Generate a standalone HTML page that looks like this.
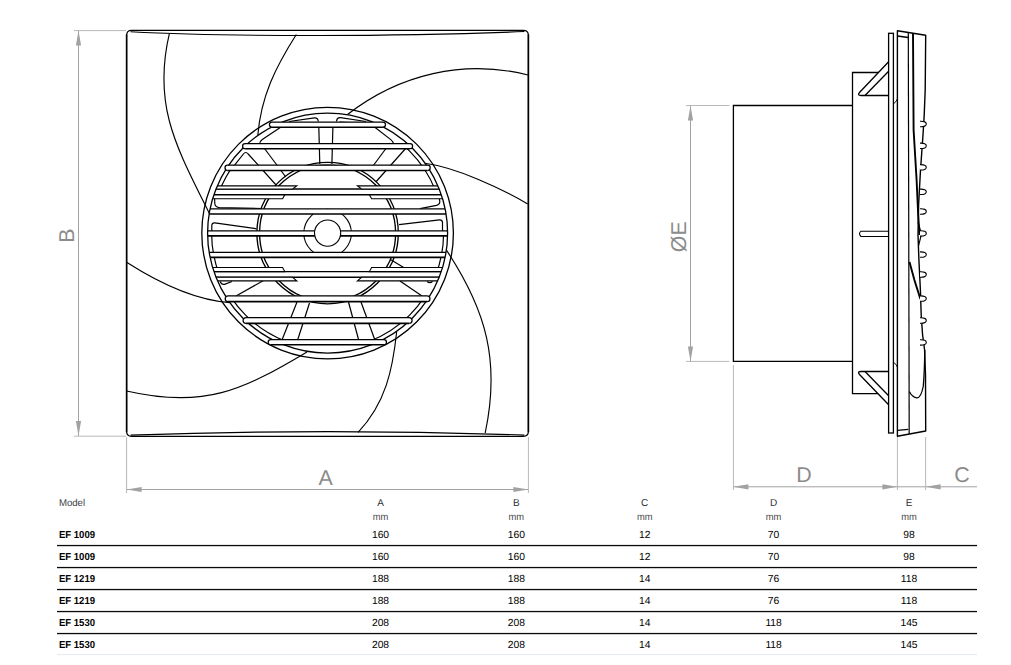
<!DOCTYPE html>
<html><head><meta charset="utf-8"><style>
html,body{margin:0;padding:0;background:#fff;width:1011px;height:665px;overflow:hidden;}
svg{display:block;}
</style></head><body>
<svg width="1011" height="665" viewBox="0 0 1011 665" style="text-rendering:geometricPrecision">
<defs><clipPath id="ring"><circle cx="327.6" cy="233.1" r="120.0"/></clipPath><clipPath id="band"><rect x="150" y="165" width="360" height="33.7"/><rect x="327" y="143.6" width="183" height="22"/><rect x="150" y="230.8" width="360" height="50.2"/><rect x="150" y="295.8" width="360" height="47.7"/></clipPath></defs>
<rect width="1011" height="665" fill="#fff"/>
<path d="M131.6,30.45 H523.4 Q528.4,30.45 528.4,35.45 V431.3 Q528.4,436.3 523.4,436.3 H131.6 Q126.6,436.3 126.6,431.3 V35.45 Q126.6,30.45 131.6,30.45 Z" fill="none" stroke="#000" stroke-width="1.2"/>
<path d="M126.6,34.45 V432.3 M528.4,34.45 V432.3" fill="none" stroke="#000" stroke-width="1.6"/>
<path d="M130.6,31.75 C230,37.0 400,36.6 524.4,31.55" fill="none" stroke="#000" stroke-width="1.15"/>
<path d="M130.6,435.1 Q330,428.1 524.4,435.1" fill="none" stroke="#000" stroke-width="1.15"/>
<circle cx="327.6" cy="233.1" r="125.8" fill="#fff" stroke="#000" stroke-width="1.3"/>
<path d="M169.4,33.3 C152.2,106.2 177.0,148.2 209.5,213.7" fill="none" stroke="#000" stroke-width="1.15"/>
<path d="M296.3,34.5 C275.6,67.2 261.0,96.2 257.8,135.5" fill="none" stroke="#000" stroke-width="1.15"/>
<path d="M528.0,75.0 C463.9,58.8 399.2,74.3 347.5,114.5" fill="none" stroke="#000" stroke-width="1.15"/>
<path d="M425.0,163.3 C456.3,167.5 500.3,188.0 527.7,203.9" fill="none" stroke="#000" stroke-width="1.15"/>
<path d="M446.6,250.4 C486.5,310.7 500.3,361.6 485.2,433.0" fill="none" stroke="#000" stroke-width="1.15"/>
<path d="M396.7,331.5 C392.7,369.7 385.6,403.5 358.1,432.3" fill="none" stroke="#000" stroke-width="1.15"/>
<path d="M126.6,262.2 C156.3,281.2 194.3,300.1 230.0,302.6" fill="none" stroke="#000" stroke-width="1.15"/>
<path d="M126.6,391.0 C204.0,408.9 242.1,390.6 307.0,351.9" fill="none" stroke="#000" stroke-width="1.15"/>
<circle cx="327.6" cy="233.1" r="120.0" fill="#fff" stroke="none"/>
<g clip-path="url(#ring)">
<circle cx="327.6" cy="233.1" r="116.0" clip-path="url(#band)" fill="none" stroke="#000" stroke-width="1.2"/>
<circle cx="327.6" cy="233.1" r="68.0" fill="none" stroke="#000" stroke-width="1.35"/>
<circle cx="327.6" cy="233.1" r="70.7" fill="none" stroke="#000" stroke-width="1.35"/>
<path d="M318.8,127 L319.8,164" fill="none" stroke="#000" stroke-width="1.2"/>
<path d="M332.9,127 L331.9,164" fill="none" stroke="#000" stroke-width="1.2"/>
<path d="M297,302 L280,345" fill="none" stroke="#000" stroke-width="1.2"/>
<path d="M309.5,303 L296,345" fill="none" stroke="#000" stroke-width="1.2"/>
<path d="M348.5,302 L360,345" fill="none" stroke="#000" stroke-width="1.2"/>
<path d="M361,302 L376,343" fill="none" stroke="#000" stroke-width="1.2"/>
<path d="M410.5,143 L375.8,182" fill="none" stroke="#000" stroke-width="1.2"/>
<path d="M390,143 L371.5,168" fill="none" stroke="#000" stroke-width="1.2"/>
<path d="M264.5,148.5 L285.8,177" fill="none" stroke="#000" stroke-width="1.2"/>
<path d="M236,296 L268,278" fill="none" stroke="#000" stroke-width="1.2"/>
<path d="M390.5,259.5 L404.5,268" fill="none" stroke="#000" stroke-width="1.2"/>
<path d="M400,281 L422,296" fill="none" stroke="#000" stroke-width="1.2"/>
<path d="M234.6,165.2 L243.4,154 Q245.8,151 248.2,154 L276.5,185.5" fill="none" stroke="#000" stroke-width="1.2"/>
<path d="M281,127 L262.3,139.6 Q259.3,141.8 259.6,144" fill="none" stroke="#000" stroke-width="1.2"/>
<path d="M374.5,127 L390.8,139.6 Q393.6,141.8 393.3,144" fill="none" stroke="#000" stroke-width="1.2"/>
<path d="M211.8,232 L211.8,225.2 Q212,222.6 214.8,222.8 L256.5,228.8" fill="none" stroke="#000" stroke-width="1.2"/>
<path d="M214.6,198 L214.8,203.8 Q215.2,207.3 219.5,207.6 L262,208.6" fill="none" stroke="#000" stroke-width="1.2"/>
<path d="M442.5,232 L442.5,222.6 Q442.3,219.8 439.5,219.9 L399,224.6" fill="none" stroke="#000" stroke-width="1.2"/>
<path d="M439.3,198 L439.8,201.5 Q440,204.4 436.5,205.3 L420,208.6" fill="none" stroke="#000" stroke-width="1.2"/>
<path d="M383,127 Q372,124 340,122" fill="none" stroke="#000" stroke-width="1.2"/>
<path d="M232,281.5 L224.5,284.3 Q221.5,285 220.2,281.5" fill="none" stroke="#000" stroke-width="1.2"/>
<path d="M427,281.5 Q430,283.6 432.5,281.5" fill="none" stroke="#000" stroke-width="1.2"/>
<path d="M289,121.5 L314.5,117.8 Q318,117.6 318.3,121.5" fill="none" stroke="#000" stroke-width="1.2"/>
<path d="M366,121.5 L340.5,117.6 Q336.8,117.4 336.5,121.5" fill="none" stroke="#000" stroke-width="1.2"/>
</g>
<circle cx="327.6" cy="233.1" r="23.8" fill="#fff" stroke="#000" stroke-width="1.1"/>
<g clip-path="url(#ring)">
<rect x="190" y="189.00" width="280" height="5.70" fill="#fff"/>
<line x1="190" y1="189.00" x2="470" y2="189.00" stroke="#000" stroke-width="1.3"/>
<line x1="190" y1="194.70" x2="470" y2="194.70" stroke="#000" stroke-width="1.6"/>
<rect x="190" y="208.80" width="280" height="5.20" fill="#fff"/>
<line x1="190" y1="208.80" x2="470" y2="208.80" stroke="#000" stroke-width="1.3"/>
<line x1="190" y1="214.00" x2="470" y2="214.00" stroke="#000" stroke-width="1.6"/>
<rect x="190" y="230.80" width="280" height="5.10" fill="#fff"/>
<line x1="190" y1="230.80" x2="470" y2="230.80" stroke="#000" stroke-width="1.3"/>
<line x1="190" y1="235.90" x2="470" y2="235.90" stroke="#000" stroke-width="1.6"/>
<rect x="190" y="252.30" width="280" height="5.10" fill="#fff"/>
<line x1="190" y1="252.30" x2="470" y2="252.30" stroke="#000" stroke-width="1.3"/>
<line x1="190" y1="257.40" x2="470" y2="257.40" stroke="#000" stroke-width="1.6"/>
<rect x="190" y="271.60" width="280" height="5.70" fill="#fff"/>
<line x1="190" y1="271.60" x2="470" y2="271.60" stroke="#000" stroke-width="1.3"/>
<line x1="190" y1="277.30" x2="470" y2="277.30" stroke="#000" stroke-width="1.6"/>
<path d="M150,185.9 H296.8 L292.6,189.0 H150 Z" fill="#fff" stroke="#000" stroke-width="1.1"/>
<path d="M505,185.9 H357.40000000000003 L361.6,189.0 H505 Z" fill="#fff" stroke="#000" stroke-width="1.1"/>
<path d="M150,194.9 H284.8 L282.6,198.7 H150 Z" fill="#fff" stroke="#000" stroke-width="1.1"/>
<path d="M505,194.9 H369.40000000000003 L371.6,198.7 H505 Z" fill="#fff" stroke="#000" stroke-width="1.1"/>
<path d="M150,267.5 H282.6 L284.8,271.6 H150 Z" fill="#fff" stroke="#000" stroke-width="1.1"/>
<path d="M505,267.5 H371.6 L369.40000000000003,271.6 H505 Z" fill="#fff" stroke="#000" stroke-width="1.1"/>
<path d="M150,277.3 H292.6 L296.8,280.9 H150 Z" fill="#fff" stroke="#000" stroke-width="1.1"/>
<path d="M505,277.3 H361.6 L357.40000000000003,280.9 H505 Z" fill="#fff" stroke="#000" stroke-width="1.1"/>
</g>
<circle cx="327.6" cy="233.1" r="120.0" fill="none" stroke="#000" stroke-width="1.3"/>
<path d="M272.00,122.0 H382.90 A2.6000000000000014,2.6000000000000014 0 0 1 382.90,127.2 H272.00 A2.6000000000000014,2.6000000000000014 0 0 1 272.00,122.0 Z" fill="#fff" stroke="none"/>
<path d="M272.00,127.2 A2.6000000000000014,2.6000000000000014 0 0 1 272.00,122.0 H382.90 A2.6000000000000014,2.6000000000000014 0 0 1 382.90,127.2" fill="none" stroke="#000" stroke-width="1.25"/>
<line x1="272.00" y1="127.2" x2="382.90" y2="127.2" stroke="#000" stroke-width="1.6"/>
<path d="M270.80,339.6 H383.90 A2.5999999999999943,2.5999999999999943 0 0 1 383.90,344.8 H270.80 A2.5999999999999943,2.5999999999999943 0 0 1 270.80,339.6 Z" fill="#fff" stroke="none"/>
<path d="M270.80,344.8 A2.5999999999999943,2.5999999999999943 0 0 1 270.80,339.6 H383.90 A2.5999999999999943,2.5999999999999943 0 0 1 383.90,344.8" fill="none" stroke="#000" stroke-width="1.25"/>
<line x1="270.80" y1="344.8" x2="383.90" y2="344.8" stroke="#000" stroke-width="1.6"/>
<path d="M245.14,143.6 H410.06 A2.549999999999997,2.549999999999997 0 0 1 410.06,148.7 H245.14 A2.549999999999997,2.549999999999997 0 0 1 245.14,143.6 Z" fill="#fff" stroke="none"/>
<path d="M245.14,148.7 A2.549999999999997,2.549999999999997 0 0 1 245.14,143.6 H410.06 A2.549999999999997,2.549999999999997 0 0 1 410.06,148.7" fill="none" stroke="#000" stroke-width="1.25"/>
<line x1="245.14" y1="148.7" x2="410.06" y2="148.7" stroke="#000" stroke-width="1.6"/>
<path d="M227.64,165.2 H427.56 A2.6500000000000057,2.6500000000000057 0 0 1 427.56,170.5 H227.64 A2.6500000000000057,2.6500000000000057 0 0 1 227.64,165.2 Z" fill="#fff" stroke="none"/>
<path d="M227.64,170.5 A2.6500000000000057,2.6500000000000057 0 0 1 227.64,165.2 H427.56 A2.6500000000000057,2.6500000000000057 0 0 1 427.56,170.5" fill="none" stroke="#000" stroke-width="1.25"/>
<line x1="227.64" y1="170.5" x2="427.56" y2="170.5" stroke="#000" stroke-width="1.6"/>
<path d="M228.11,295.8 H427.09 A2.9000000000000057,2.9000000000000057 0 0 1 427.09,301.6 H228.11 A2.9000000000000057,2.9000000000000057 0 0 1 228.11,295.8 Z" fill="#fff" stroke="none"/>
<path d="M228.11,301.6 A2.9000000000000057,2.9000000000000057 0 0 1 228.11,295.8 H427.09 A2.9000000000000057,2.9000000000000057 0 0 1 427.09,301.6" fill="none" stroke="#000" stroke-width="1.25"/>
<line x1="228.11" y1="301.6" x2="427.09" y2="301.6" stroke="#000" stroke-width="1.6"/>
<path d="M245.96,317.7 H409.24 A2.8499999999999943,2.8499999999999943 0 0 1 409.24,323.4 H245.96 A2.8499999999999943,2.8499999999999943 0 0 1 245.96,317.7 Z" fill="#fff" stroke="none"/>
<path d="M245.96,323.4 A2.8499999999999943,2.8499999999999943 0 0 1 245.96,317.7 H409.24 A2.8499999999999943,2.8499999999999943 0 0 1 409.24,323.4" fill="none" stroke="#000" stroke-width="1.25"/>
<line x1="245.96" y1="323.4" x2="409.24" y2="323.4" stroke="#000" stroke-width="1.6"/>
<circle cx="327.6" cy="233.1" r="13.1" fill="#fff" stroke="#000" stroke-width="1.15"/>
<path d="M852.5,105.5 H733.4 V361.4 H852.5" fill="none" stroke="#000" stroke-width="1.3"/>
<path d="M888.4,72.5 H852.5 V393.7 H888.4" fill="none" stroke="#000" stroke-width="1.3"/>
<path d="M888.4,62 L859.5,92.5 Q857,95.5 861,95.5 H888.4" fill="#fff" stroke="#000" stroke-width="1.3"/>
<path d="M888.4,71.5 L865,95.5" fill="none" stroke="#000" stroke-width="1.3"/>
<path d="M888.4,404.5 L859.5,374.5 Q857,371.5 861,371.5 H888.4" fill="#fff" stroke="#000" stroke-width="1.3"/>
<path d="M888.4,395.5 L865,371.5" fill="none" stroke="#000" stroke-width="1.3"/>
<path d="M888.4,231.2 H861 Q858,233.8 861,236.5 H888.4" fill="#fff" stroke="#000" stroke-width="1.1"/>
<rect x="888.6" y="33.3" width="4.8" height="399.7" fill="#fff" stroke="#000" stroke-width="1.3"/>
<path d="M897.4,30.8 L925.7,35.3 L925.2,90 L924.2,115 L923,135 L920.5,170 L918.6,205 L918.0,235 L919.0,262 L920.4,290 L921.2,315 L922.6,335 L924.6,350 L925.5,375 L925.7,431 L897.4,436.2 Z" fill="#fff" stroke="#000" stroke-width="1.4" stroke-linejoin="round"/>
<path d="M897.4,36 L908.3,37.5" fill="none" stroke="#000" stroke-width="1.3"/>
<path d="M897.4,430.4 L908.3,429.3" fill="none" stroke="#000" stroke-width="1.3"/>
<path d="M908.3,31.9 L909.2,433.8" fill="none" stroke="#000" stroke-width="1.2"/>
<path d="M913,33 L913.6,130 L916.6,180 L918.2,215 L919.5,235" fill="none" stroke="#000" stroke-width="1.9"/>
<path d="M918,222 L921.5,234 L918.5,246" fill="none" stroke="#000" stroke-width="1.1"/>
<path d="M909.5,262 L914.4,280 L920.4,299" fill="none" stroke="#000" stroke-width="1.9"/>
<path d="M924.8,350 Q924.5,372 923.3,386 Q921,398.5 916.5,397.8 Q912,397 909.3,391.5" fill="none" stroke="#000" stroke-width="1.3"/>
<path d="M920,121.3 Q926.3,121.1 926.3,124.0 Q926.3,126.9 920,126.7" fill="#fff" stroke="#000" stroke-width="1.1"/>
<path d="M920,143.10000000000002 Q926.3,142.9 926.3,145.8 Q926.3,148.70000000000002 920,148.5" fill="#fff" stroke="#000" stroke-width="1.1"/>
<path d="M920,164.60000000000002 Q926.3,164.4 926.3,167.3 Q926.3,170.20000000000002 920,170.0" fill="#fff" stroke="#000" stroke-width="1.1"/>
<path d="M920,189.10000000000002 Q926.3,188.9 926.3,191.8 Q926.3,194.70000000000002 920,194.5" fill="#fff" stroke="#000" stroke-width="1.1"/>
<path d="M920,208.8 Q926.3,208.6 926.3,211.5 Q926.3,214.4 920,214.2" fill="#fff" stroke="#000" stroke-width="1.1"/>
<path d="M920,230.70000000000002 Q926.3,230.5 926.3,233.4 Q926.3,236.3 920,236.1" fill="#fff" stroke="#000" stroke-width="1.1"/>
<path d="M920,251.9 Q926.3,251.7 926.3,254.6 Q926.3,257.5 920,257.3" fill="#fff" stroke="#000" stroke-width="1.1"/>
<path d="M920,271.8 Q926.3,271.6 926.3,274.5 Q926.3,277.4 920,277.2" fill="#fff" stroke="#000" stroke-width="1.1"/>
<path d="M920,295.90000000000003 Q926.3,295.70000000000005 926.3,298.6 Q926.3,301.5 920,301.3" fill="#fff" stroke="#000" stroke-width="1.1"/>
<path d="M920,317.8 Q926.3,317.6 926.3,320.5 Q926.3,323.4 920,323.2" fill="#fff" stroke="#000" stroke-width="1.1"/>
<path d="M920,339.7 Q926.3,339.5 926.3,342.4 Q926.3,345.29999999999995 920,345.09999999999997" fill="#fff" stroke="#000" stroke-width="1.1"/>
<path d="M893.4,104 Q896.5,101.5 897.4,99 M893.4,362 Q896.5,364.5 897.4,367" fill="none" stroke="#000" stroke-width="1"/>
<line x1="78.5" y1="30.6" x2="78.5" y2="435.9" stroke="#a2a2a2" stroke-width="1"/>
<line x1="74" y1="30.6" x2="126" y2="30.6" stroke="#b8b8b8" stroke-width="1"/>
<line x1="74" y1="436.2" x2="126" y2="436.2" stroke="#b8b8b8" stroke-width="1"/>
<path d="M78.5,30.6 L75.9,45.6 L81.1,45.6 Z" fill="#a2a2a2"/>
<path d="M78.5,436 L75.9,421 L81.1,421 Z" fill="#a2a2a2"/>
<line x1="126.6" y1="489.5" x2="528.4" y2="489.5" stroke="#a2a2a2" stroke-width="1"/>
<line x1="126.6" y1="437" x2="126.6" y2="493" stroke="#b8b8b8" stroke-width="1"/>
<line x1="528.4" y1="437" x2="528.4" y2="493" stroke="#b8b8b8" stroke-width="1"/>
<path d="M126.6,489.5 L141.6,486.9 L141.6,492.1 Z" fill="#a2a2a2"/>
<path d="M528.4,489.5 L513.4,486.9 L513.4,492.1 Z" fill="#a2a2a2"/>
<line x1="690.5" y1="105.5" x2="690.5" y2="361.4" stroke="#a2a2a2" stroke-width="1"/>
<line x1="686" y1="105.5" x2="729.5" y2="105.5" stroke="#b8b8b8" stroke-width="1"/>
<line x1="686" y1="361.4" x2="729.5" y2="361.4" stroke="#b8b8b8" stroke-width="1"/>
<path d="M690.5,105.5 L687.9,120.5 L693.1,120.5 Z" fill="#a2a2a2"/>
<path d="M690.5,361.4 L687.9,346.4 L693.1,346.4 Z" fill="#a2a2a2"/>
<line x1="733.4" y1="486.8" x2="897.4" y2="486.8" stroke="#a2a2a2" stroke-width="1"/>
<line x1="733.4" y1="365" x2="733.4" y2="490" stroke="#b8b8b8" stroke-width="1"/>
<line x1="897.4" y1="437" x2="897.4" y2="490" stroke="#b8b8b8" stroke-width="1"/>
<path d="M733.4,486.8 L748.4,484.2 L748.4,489.40000000000003 Z" fill="#a2a2a2"/>
<path d="M897.4,486.8 L882.4,484.2 L882.4,489.40000000000003 Z" fill="#a2a2a2"/>
<line x1="897.4" y1="486.8" x2="977" y2="486.8" stroke="#a2a2a2" stroke-width="1"/>
<line x1="925.6" y1="437" x2="925.6" y2="490" stroke="#b8b8b8" stroke-width="1"/>
<path d="M925.6,486.8 L940.6,484.2 L940.6,489.40000000000003 Z" fill="#a2a2a2"/>
<text x="325.6" y="484.8" text-anchor="middle" font-family="Liberation Sans, sans-serif" font-size="21.4" fill="#8c8c8c">A</text>
<text x="804" y="481.5" text-anchor="middle" font-family="Liberation Sans, sans-serif" font-size="21.4" fill="#8c8c8c">D</text>
<text x="962" y="481.5" text-anchor="middle" font-family="Liberation Sans, sans-serif" font-size="21.4" fill="#8c8c8c">C</text>
<text transform="translate(74.3,235.7) rotate(-90)" text-anchor="middle" font-family="Liberation Sans, sans-serif" font-size="21.4" fill="#8c8c8c">B</text>
<text transform="translate(686.0,236.8) rotate(-90)" text-anchor="middle" font-family="Liberation Sans, sans-serif" font-size="21.4" fill="#8c8c8c">ØE</text>
<text x="58.9" y="506.0" font-size="10.0" fill="#383d45" textLength="26.2" lengthAdjust="spacingAndGlyphs" font-family="Liberation Sans, sans-serif">Model</text>
<text x="380.5" y="506.0" font-size="10.0" fill="#2a2f37" text-anchor="middle" font-family="Liberation Sans, sans-serif">A</text>
<text x="372.7" y="520.0" font-size="9.9" fill="#4a4a4a" textLength="15.6" lengthAdjust="spacingAndGlyphs" font-family="Liberation Sans, sans-serif">mm</text>
<text x="516.3" y="506.0" font-size="10.0" fill="#2a2f37" text-anchor="middle" font-family="Liberation Sans, sans-serif">B</text>
<text x="508.5" y="520.0" font-size="9.9" fill="#4a4a4a" textLength="15.6" lengthAdjust="spacingAndGlyphs" font-family="Liberation Sans, sans-serif">mm</text>
<text x="644.7" y="506.0" font-size="10.0" fill="#2a2f37" text-anchor="middle" font-family="Liberation Sans, sans-serif">C</text>
<text x="636.9" y="520.0" font-size="9.9" fill="#4a4a4a" textLength="15.6" lengthAdjust="spacingAndGlyphs" font-family="Liberation Sans, sans-serif">mm</text>
<text x="773.6" y="506.0" font-size="10.0" fill="#2a2f37" text-anchor="middle" font-family="Liberation Sans, sans-serif">D</text>
<text x="765.8" y="520.0" font-size="9.9" fill="#4a4a4a" textLength="15.6" lengthAdjust="spacingAndGlyphs" font-family="Liberation Sans, sans-serif">mm</text>
<text x="909" y="506.0" font-size="10.0" fill="#2a2f37" text-anchor="middle" font-family="Liberation Sans, sans-serif">E</text>
<text x="901.2" y="520.0" font-size="9.9" fill="#4a4a4a" textLength="15.6" lengthAdjust="spacingAndGlyphs" font-family="Liberation Sans, sans-serif">mm</text>
<text x="58.9" y="538.1" font-size="10.2" font-weight="bold" fill="#000" textLength="36.2" lengthAdjust="spacingAndGlyphs" font-family="Liberation Sans, sans-serif">EF 1009</text>
<text x="380.5" y="538.1" font-size="10.3" fill="#000" text-anchor="middle" font-family="Liberation Sans, sans-serif">160</text>
<text x="516.3" y="538.1" font-size="10.3" fill="#000" text-anchor="middle" font-family="Liberation Sans, sans-serif">160</text>
<text x="644.7" y="538.1" font-size="10.3" fill="#000" text-anchor="middle" font-family="Liberation Sans, sans-serif">12</text>
<text x="773.6" y="538.1" font-size="10.3" fill="#000" text-anchor="middle" font-family="Liberation Sans, sans-serif">70</text>
<text x="909" y="538.1" font-size="10.3" fill="#000" text-anchor="middle" font-family="Liberation Sans, sans-serif">98</text>
<rect x="57" y="544.90" width="920" height="1.3" fill="#0a0a0a"/>
<text x="58.9" y="560.0" font-size="10.2" font-weight="bold" fill="#000" textLength="36.2" lengthAdjust="spacingAndGlyphs" font-family="Liberation Sans, sans-serif">EF 1009</text>
<text x="380.5" y="560.0" font-size="10.3" fill="#000" text-anchor="middle" font-family="Liberation Sans, sans-serif">160</text>
<text x="516.3" y="560.0" font-size="10.3" fill="#000" text-anchor="middle" font-family="Liberation Sans, sans-serif">160</text>
<text x="644.7" y="560.0" font-size="10.3" fill="#000" text-anchor="middle" font-family="Liberation Sans, sans-serif">12</text>
<text x="773.6" y="560.0" font-size="10.3" fill="#000" text-anchor="middle" font-family="Liberation Sans, sans-serif">70</text>
<text x="909" y="560.0" font-size="10.3" fill="#000" text-anchor="middle" font-family="Liberation Sans, sans-serif">98</text>
<rect x="57" y="566.90" width="920" height="1.3" fill="#0a0a0a"/>
<text x="58.9" y="581.9" font-size="10.2" font-weight="bold" fill="#000" textLength="36.2" lengthAdjust="spacingAndGlyphs" font-family="Liberation Sans, sans-serif">EF 1219</text>
<text x="380.5" y="581.9" font-size="10.3" fill="#000" text-anchor="middle" font-family="Liberation Sans, sans-serif">188</text>
<text x="516.3" y="581.9" font-size="10.3" fill="#000" text-anchor="middle" font-family="Liberation Sans, sans-serif">188</text>
<text x="644.7" y="581.9" font-size="10.3" fill="#000" text-anchor="middle" font-family="Liberation Sans, sans-serif">14</text>
<text x="773.6" y="581.9" font-size="10.3" fill="#000" text-anchor="middle" font-family="Liberation Sans, sans-serif">76</text>
<text x="909" y="581.9" font-size="10.3" fill="#000" text-anchor="middle" font-family="Liberation Sans, sans-serif">118</text>
<rect x="57" y="588.90" width="920" height="1.3" fill="#0a0a0a"/>
<text x="58.9" y="603.8" font-size="10.2" font-weight="bold" fill="#000" textLength="36.2" lengthAdjust="spacingAndGlyphs" font-family="Liberation Sans, sans-serif">EF 1219</text>
<text x="380.5" y="603.8" font-size="10.3" fill="#000" text-anchor="middle" font-family="Liberation Sans, sans-serif">188</text>
<text x="516.3" y="603.8" font-size="10.3" fill="#000" text-anchor="middle" font-family="Liberation Sans, sans-serif">188</text>
<text x="644.7" y="603.8" font-size="10.3" fill="#000" text-anchor="middle" font-family="Liberation Sans, sans-serif">14</text>
<text x="773.6" y="603.8" font-size="10.3" fill="#000" text-anchor="middle" font-family="Liberation Sans, sans-serif">76</text>
<text x="909" y="603.8" font-size="10.3" fill="#000" text-anchor="middle" font-family="Liberation Sans, sans-serif">118</text>
<rect x="57" y="610.90" width="920" height="1.3" fill="#0a0a0a"/>
<text x="58.9" y="625.7" font-size="10.2" font-weight="bold" fill="#000" textLength="36.2" lengthAdjust="spacingAndGlyphs" font-family="Liberation Sans, sans-serif">EF 1530</text>
<text x="380.5" y="625.7" font-size="10.3" fill="#000" text-anchor="middle" font-family="Liberation Sans, sans-serif">208</text>
<text x="516.3" y="625.7" font-size="10.3" fill="#000" text-anchor="middle" font-family="Liberation Sans, sans-serif">208</text>
<text x="644.7" y="625.7" font-size="10.3" fill="#000" text-anchor="middle" font-family="Liberation Sans, sans-serif">14</text>
<text x="773.6" y="625.7" font-size="10.3" fill="#000" text-anchor="middle" font-family="Liberation Sans, sans-serif">118</text>
<text x="909" y="625.7" font-size="10.3" fill="#000" text-anchor="middle" font-family="Liberation Sans, sans-serif">145</text>
<rect x="57" y="632.90" width="920" height="1.3" fill="#0a0a0a"/>
<text x="58.9" y="647.6" font-size="10.2" font-weight="bold" fill="#000" textLength="36.2" lengthAdjust="spacingAndGlyphs" font-family="Liberation Sans, sans-serif">EF 1530</text>
<text x="380.5" y="647.6" font-size="10.3" fill="#000" text-anchor="middle" font-family="Liberation Sans, sans-serif">208</text>
<text x="516.3" y="647.6" font-size="10.3" fill="#000" text-anchor="middle" font-family="Liberation Sans, sans-serif">208</text>
<text x="644.7" y="647.6" font-size="10.3" fill="#000" text-anchor="middle" font-family="Liberation Sans, sans-serif">14</text>
<text x="773.6" y="647.6" font-size="10.3" fill="#000" text-anchor="middle" font-family="Liberation Sans, sans-serif">118</text>
<text x="909" y="647.6" font-size="10.3" fill="#000" text-anchor="middle" font-family="Liberation Sans, sans-serif">145</text>
<rect x="57" y="654.00" width="920" height="1.1" fill="#e6ebf1"/>
</svg>
</body></html>
